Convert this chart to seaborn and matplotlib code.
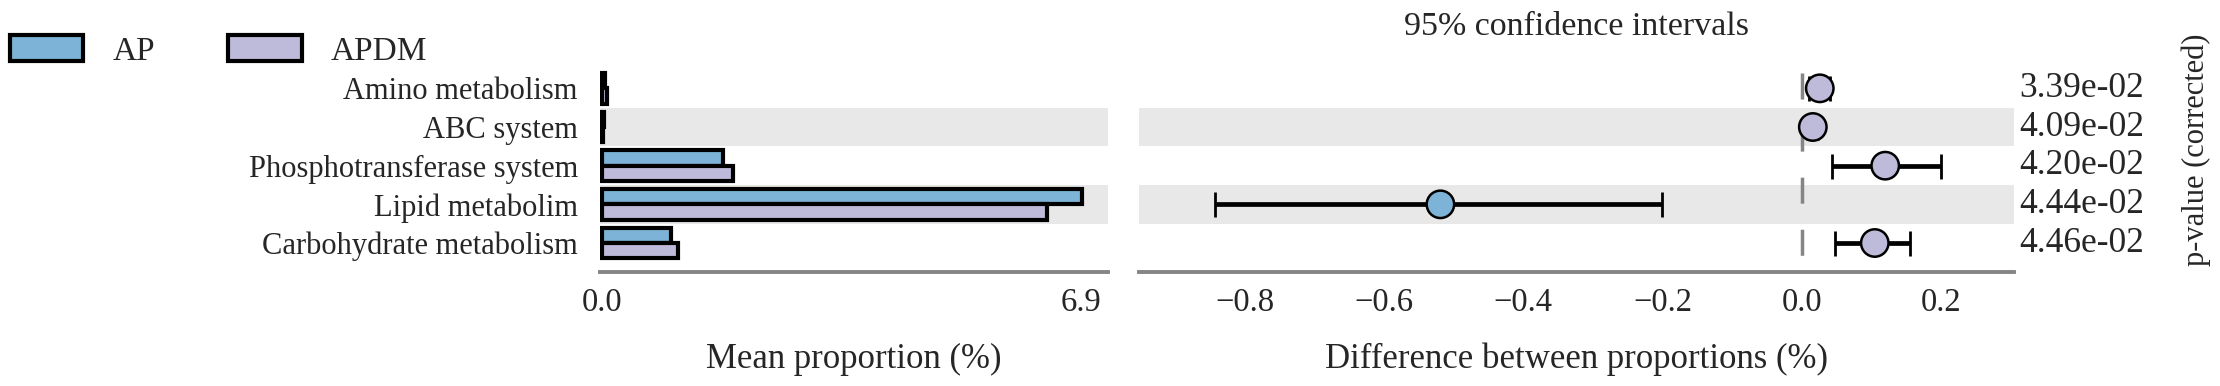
import pandas as pd
import matplotlib.pyplot as plt
import matplotlib.transforms as mtransforms
import seaborn as sns
from matplotlib.patches import Patch

# values
pathways = ["Amino metabolism", "ABC system", "Phosphotransferase system",
            "Lipid metabolim", "Carbohydrate metabolism"]
groups = ["AP", "APDM"]
mean_ap = [0.04, 0.03, 1.74, 6.92, 1.00]
mean_apdm = [0.07, 0.02, 1.89, 6.41, 1.10]
diff = [0.026, 0.016, 0.120, -0.519, 0.105]
ci_low = [0.010, 0.008, 0.043, -0.843, 0.048]
ci_high = [0.040, 0.024, 0.200, -0.200, 0.156]
p_values = ["3.39e-02", "4.09e-02", "4.20e-02", "4.44e-02", "4.46e-02"]
left_ticks = [0.0, 6.9]
right_ticks = [-0.8, -0.6, -0.4, -0.2, 0.0, 0.2]

colors = {"AP": "#7db3d6", "APDM": "#bebada"}
band_color = "#e8e8e8"
axis_gray = "#858585"

sns.set_style("white")
plt.rcParams["font.family"] = ["Liberation Serif", "DejaVu Serif"]
plt.rcParams["font.size"] = 22

df = pd.DataFrame({
    "pathway": pathways * 2,
    "group": ["AP"] * len(pathways) + ["APDM"] * len(pathways),
    "value": mean_ap + mean_apdm,
})
df_ci = pd.DataFrame({
    "pos": range(len(pathways)),
    "diff": diff,
    "enriched": ["AP" if d < 0 else "APDM" for d in diff],
})

W, H = 2220, 386
fig = plt.figure(figsize=(W / 100, H / 100), dpi=100)
ax1 = fig.add_axes([600 / W, 114 / H, 508 / W, 203 / H])
ax2 = fig.add_axes([1139 / W, 114 / H, 875 / W, 203 / H])

# left panel: mean proportions
for i in (1, 3):
    ax1.axhspan(i - 0.5, i + 0.5, color=band_color, zorder=0, lw=0)
sns.barplot(data=df, x="value", y="pathway", hue="group", hue_order=groups,
            palette=colors, orient="h", width=0.8, edgecolor="black",
            linewidth=3, saturation=1, legend=False, ax=ax1, zorder=2)
ax1.set_xlim(-0.03, 7.29)
ax1.set_ylim(4.75, -0.5)
ax1.set_xticks(left_ticks)
ax1.set_xticklabels([f"{t:.1f}" for t in left_ticks])
ax1.set_xlabel("Mean proportion (%)", fontsize=25, labelpad=18)
ax1.set_ylabel("")
ax1.tick_params(axis="y", length=0, pad=16, labelsize=22)

# right panel: difference with 95% CI
for i in (1, 3):
    ax2.axhspan(i - 0.5, i + 0.5, color=band_color, zorder=0, lw=0)
ax2.plot([0, 0], [-0.4, 4.5], color=axis_gray, lw=2.5,
         ls=(0, (7.5, 7.5)), zorder=1)
for i in range(len(pathways)):
    ax2.errorbar(diff[i], i, xerr=[[diff[i] - ci_low[i]], [ci_high[i] - diff[i]]],
                 fmt="none", ecolor="black", elinewidth=3.4, capsize=9,
                 capthick=2, zorder=2)
sns.scatterplot(data=df_ci, x="diff", y="pos", hue="enriched", palette=colors,
                s=390, edgecolor="black", linewidth=1.8, legend=False,
                ax=ax2, zorder=3)
ax2.set_xlim(-0.952, 0.305)
ax2.set_ylim(4.75, -0.5)
ax2.set_xticks(right_ticks)
ax2.set_xticklabels([f"{t:.1f}".replace("-", "\u2212") for t in right_ticks])
ax2.set_yticks([])
ax2.set_xlabel("Difference between proportions (%)", fontsize=25, labelpad=18)
ax2.set_ylabel("")

trans = mtransforms.blended_transform_factory(ax2.transAxes, ax2.transData)
for i, p in enumerate(p_values):
    ax2.text(1.006, i, p, transform=trans, ha="left", va="center", fontsize=25.5)

for ax in (ax1, ax2):
    for side in ("top", "right", "left"):
        ax.spines[side].set_visible(False)
    ax.spines["bottom"].set_color(axis_gray)
    ax.spines["bottom"].set_linewidth(2.8)
    ax.tick_params(axis="x", direction="in", length=7, width=1.5,
                   color=axis_gray, pad=11, labelsize=23.5)

fig.text(1576 / W, 1 - 27 / H, "95% confidence intervals", ha="center",
         va="center", fontsize=24.5)
fig.text(2196 / W, 1 - 150 / H, "p-value (corrected)", rotation=90,
         ha="center", va="center", fontsize=22)

handles = [Patch(facecolor=colors[g], edgecolor="black", linewidth=3) for g in groups]
fig.legend(handles, groups, loc="center left", bbox_to_anchor=(10 / W, 1 - 51 / H),
           ncol=2, frameon=False, fontsize=24, handlelength=2.2, handleheight=0.81,
           handletextpad=0.87, columnspacing=2.2, borderpad=0, borderaxespad=0)

fig.savefig("out.png", dpi=100)
